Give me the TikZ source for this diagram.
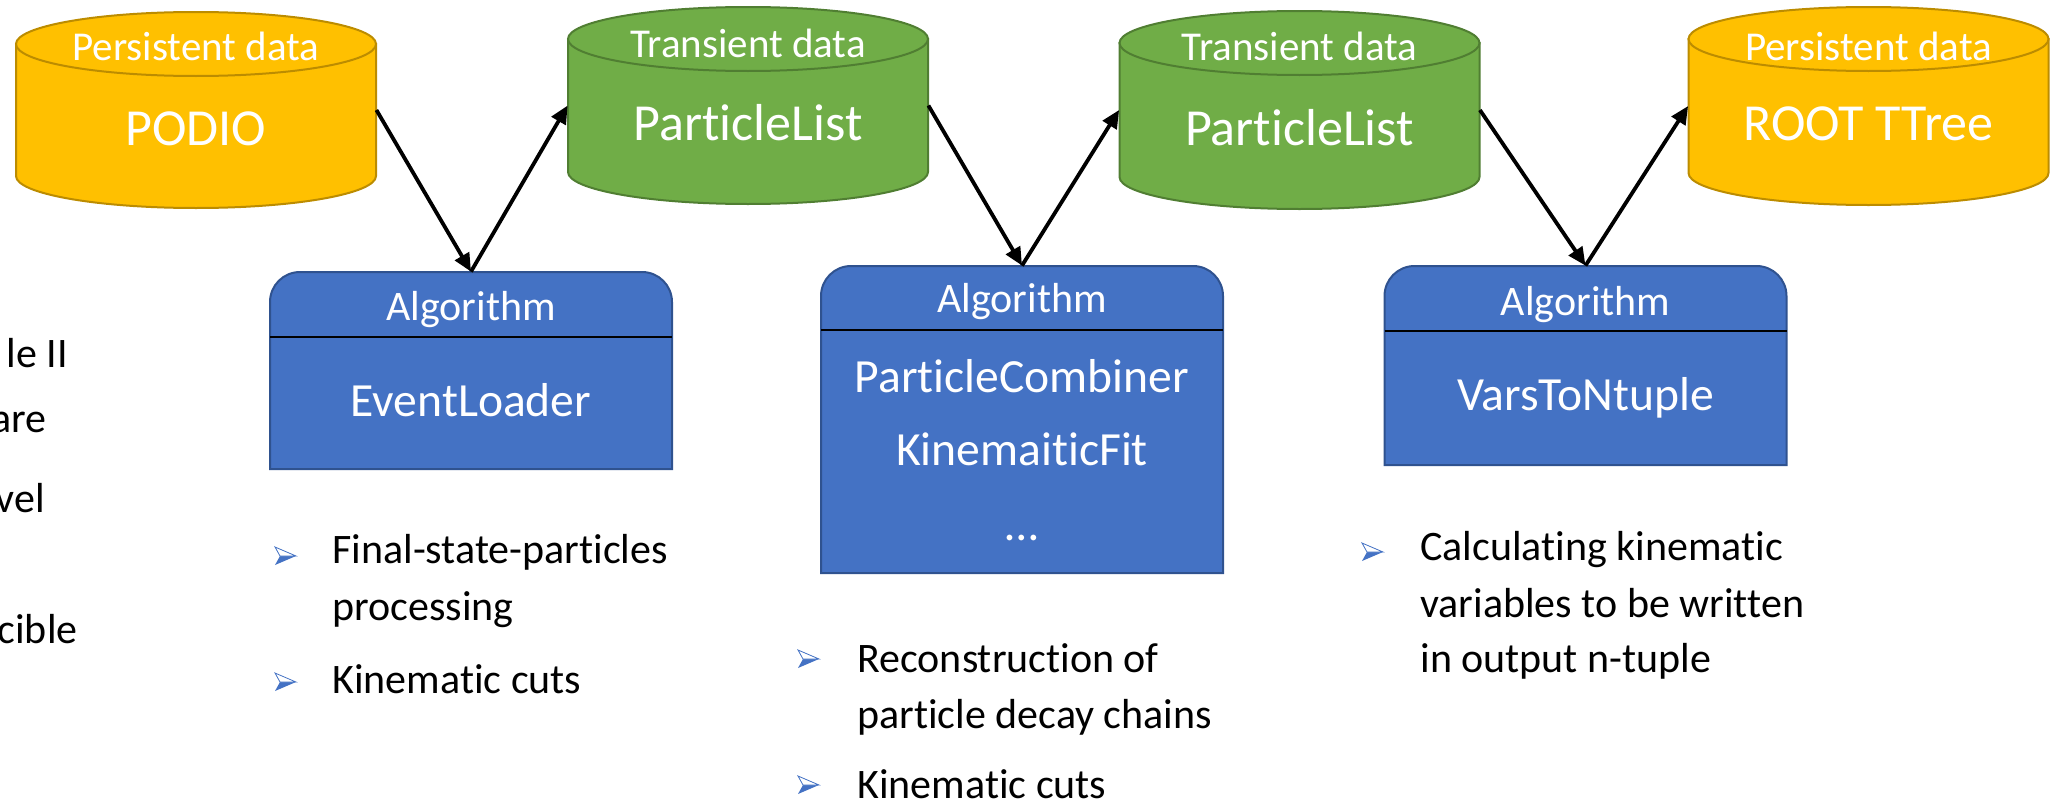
\documentclass[tikz,border=0pt]{standalone}
\usepackage{fontspec}
\setmainfont{Carlito}[RawFeature={-liga;-clig;-calt;-dlig;-hlig}]
\usetikzlibrary{arrows.meta}
\definecolor{yel}{HTML}{FFC000}
\definecolor{yeledge}{HTML}{BC8C00}
\definecolor{grn}{HTML}{70AD47}
\definecolor{grnedge}{HTML}{507E32}
\definecolor{blu}{HTML}{4472C4}
\definecolor{bluedge}{HTML}{2F528F}
\definecolor{bullblue}{HTML}{4472C4}
\newcommand\nolig{\kern0pt }
% cylinder: name, cx, top, bottom, style
\newcommand\mycyl[5]{%
  \node[inner sep=0, minimum width=180pt, minimum height={(#4-#3)*0.5pt}] (#1) at (#2,{(#3+#4)/2}) {};
  \path[#5] ({#2-180},{#3+32}) -- ({#2-180},{#4-32}) arc[start angle=180,end angle=0,x radius=180,y radius=32] -- ({#2+180},{#3+32}) -- cycle;
  \path[#5] (#2,{#3+32}) ellipse[x radius=180,y radius=32];
}
% algorithm box: name, cx, top, bottom, divider
\newcommand\algbox[5]{%
  \node[inner sep=0, minimum width=201pt, minimum height={(#4-#3)*0.5pt}] (#1) at (#2,{(#3+#4)/2}) {};
  \draw[algshape] ({#2-201},#4) -- ({#2-201},{#3+30}) arc[start angle=180,end angle=270,radius=30] -- ({#2+171},#3) arc[start angle=270,end angle=360,radius=30] -- ({#2+201},#4) -- cycle;
  \draw[divider] ({#2-201},#5) -- ({#2+201},#5);
}
% bullet mark: x left, y centre
\newcommand\bulmark[2]{%
  \fill[bullblue] (#1,{#2+9}) -- ({#1+21},#2) -- ({#1+5},#2) -- cycle;
  \filldraw[fill=white, draw=bullblue, line width=0.4pt] (#1,{#2-9}) -- ({#1+21},#2) -- ({#1+5},#2) -- cycle;
}
\begin{document}
\begin{tikzpicture}[x=0.5pt,y=-0.5pt,
  yelcyl/.style={fill=yel, draw=yeledge, line width=1pt},
  grncyl/.style={fill=grn, draw=grnedge, line width=1pt},
  algshape/.style={fill=blu, draw=bluedge, line width=1pt},
  divider/.style={draw=black, line width=1.1pt},
  cylsmall/.style={text=white, font=\fontsize{20.5}{24}\selectfont, anchor=base, inner sep=0},
  cylbig/.style={text=white, font=\fontsize{26}{30}\selectfont, anchor=base, inner sep=0},
  algtitle/.style={text=white, font=\fontsize{21}{25}\selectfont, anchor=base, inner sep=0},
  algtext/.style={text=white, font=\fontsize{23.8}{28}\selectfont, anchor=base, inner sep=0},
  bultext/.style={font=\fontsize{21}{25}\selectfont, anchor=base west, inner sep=0},
  sidetext/.style={font=\fontsize{21}{25}\selectfont, anchor=base east, inner sep=0},
  flow/.style={line width=1.9pt, -{Triangle[length=9pt,width=8pt]}}]
\useasboundingbox (0,0) rectangle (2056,803);

% cylinders
\mycyl{c1}{196}{12}{208}{yelcyl}
\mycyl{c2}{748}{7}{204}{grncyl}
\mycyl{c3}{1299.5}{11}{209}{grncyl}
\mycyl{c4}{1868.5}{7}{205}{yelcyl}

\node[cylsmall] (c1t) at (196,60) {Persistent data};
\node[cylbig] (c1m) at (196,145) {PODIO};
\node[cylsmall] (c2t) at (748,57) {Transient data};
\node[cylbig] (c2m) at (748,140) {ParticleList};
\node[cylsmall] (c3t) at (1299.5,60) {Transient data};
\node[cylbig] (c3m) at (1299.5,145) {ParticleList};
\node[cylsmall] (c4t) at (1868.5,60) {Persistent data};
\node[cylbig] (c4m) at (1868.5,140) {ROOT TTree};

% algorithm boxes
\algbox{b1}{471}{272}{469}{337}
\algbox{b2}{1022}{266}{573}{330}
\algbox{b3}{1585.5}{266}{465}{331}

\node[algtitle] (b1t) at (471,320) {Algorithm};
\node[algtext] (b1m) at (471,416) {EventLoader};
\node[algtitle] (b2t) at (1022,312) {Algorithm};
\node[algtext] (b2m1) at (1022,392) {ParticleCombiner};
\node[algtext] (b2m2) at (1022,465) {KinemaiticFit};
\node[algtext] (b2m3) at (1022,540) {…};
\node[algtitle] (b3t) at (1585.5,315) {Algorithm};
\node[algtext] (b3m) at (1585.5,410) {VarsToNtuple};

% connectors
\draw[flow] (c1.east) -- (b1.north);
\draw[flow] (b1.north) -- (c2.west);
\draw[flow] (c2.east) -- (b2.north);
\draw[flow] (b2.north) -- (c3.west);
\draw[flow] (c3.east) -- (b3.north);
\draw[flow] (b3.north) -- (c4.west);

% bullets under box 1
\bulmark{275}{556}
\node[bultext] (l1a) at (332,563) {Final-state-particles};
\node[bultext] (l1b) at (332,620) {processing};
\bulmark{275}{682}
\node[bultext] (l1c) at (332,693) {Kinemat\nolig ic cuts};

% bullets under box 2
\bulmark{798}{659}
\node[bultext] (l2a) at (857,672) {Reconstruction of};
\node[bultext] (l2b) at (857,728) {particle decay chains};
\bulmark{798}{785}
\node[bultext] (l2c) at (857,798) {Kinemat\nolig ic cuts};

% bullets under box 3
\bulmark{1362}{552}
\node[bultext] (l3a) at (1420,560) {Calculat\nolig ing kinemat\nolig ic};
\node[bultext] (l3b) at (1420,617) {variables to be writ\nolig t\nolig en};
\node[bultext] (l3c) at (1420,672) {in output n-tuple};

% clipped side text
\node[sidetext] (s1) at (68,367) {le II};
\node[sidetext] (s2) at (47,432) {are};
\node[sidetext] (s3) at (45,512) {vel};
\node[sidetext] (s4) at (78,643) {cible};
\end{tikzpicture}
\end{document}
